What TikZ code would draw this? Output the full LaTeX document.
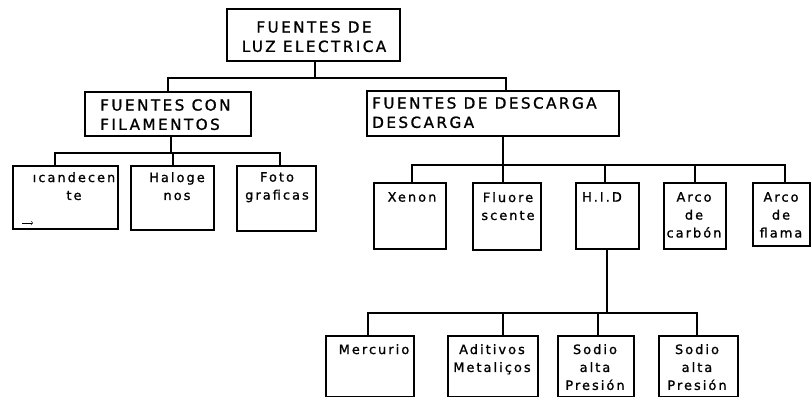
\documentclass[tikz,border=0pt]{standalone}
\usepackage{fontspec}
\newfontfamily\boxfont[LetterSpace=16,FakeBold=1.2]{DejaVu Sans}
\newdimen\px
\px=0.03cm

\begin{document}
\begin{tikzpicture}[x=0.03cm,y=-0.03cm]
        \tikzstyle{every node}+=[inner sep=0pt]
        \tikzstyle{box}=[draw, line width=1.7pt, anchor=north west]
        \tikzstyle{txt}=[anchor=north, align=center, font=\boxfont\fontsize{11}{15.3}\selectfont]
        \tikzstyle{bigtxt}=[txt, font=\boxfont\fontsize{13}{16.5}\selectfont]
        \tikzstyle{wire}=[line width=1.5pt]
        \useasboundingbox (0,0) rectangle (811,397);
        % nivel 1
        \node [box, minimum width=173\px, minimum height=52\px] (luz) at (226,8) {};
        \node [bigtxt] (luzt) at (314,21) {FUENTES DE\\LUZ ELECTRICA};
        % nivel 2
        \node [box, minimum width=166\px, minimum height=44\px] (fil) at (84,91) {};
        \node [bigtxt, align=left, anchor=north west] (filt) at (100,99) {FUENTES CON\\FILAMENTOS};
        \node [box, minimum width=252\px, minimum height=45\px] (des) at (366,90) {};
        \node [bigtxt, align=left, anchor=north west] (dest) at (372,97) {FUENTES DE DESCARGA\\DESCARGA};
        % filamentos
        \node [box, minimum width=105\px, minimum height=63\px] (inc) at (12,165) {};
        \node [txt] (inct) at (74,172) {ıcandecen\\te};
        \node [box, minimum width=83\px, minimum height=64\px] (hal) at (130,165) {};
        \node [txt] (halt) at (177,172) {Haloge\\nos};
        \node [box, minimum width=79\px, minimum height=65\px] (fot) at (236,165) {};
        \node [txt] (fott) at (277,172) {Foto\\graficas};
        % descarga
        \node [box, minimum width=72\px, minimum height=66\px] (xen) at (373,182) {};
        \node [txt] (xent) at (412,192) {Xenon};
        \node [box, minimum width=68\px, minimum height=67\px] (flu) at (472,182) {};
        \node [txt] (flut) at (508,192) {Fluore\\scente};
        \node [box, minimum width=63\px, minimum height=66\px] (hid) at (575,182) {};
        \node [txt] (hidt) at (602,192) {H.I.D};
        \node [box, minimum width=62\px, minimum height=66\px] (car) at (663,182) {};
        \node [txt] (cart) at (694,192) {Arco\\de\\carbón};
        \node [box, minimum width=57\px, minimum height=63\px] (fla) at (752,182) {};
        \node [txt] (flat) at (781,192) {Arco\\de\\flama};
        % H.I.D
        \node [box, minimum width=88\px, minimum height=61\px] (mer) at (325,335) {};
        \node [txt] (mert) at (374,344) {Mercurio};
        \node [box, minimum width=90\px, minimum height=61\px] (adi) at (447,335) {};
        \node [txt] (adit) at (492,344) {Aditivos\\Metaliços};
        \node [box, minimum width=76\px, minimum height=61\px] (so1) at (557,335) {};
        \node [txt] (so1t) at (595,344) {Sodio\\alta\\Presión};
        \node [box, minimum width=79\px, minimum height=61\px] (so2) at (658,335) {};
        \node [txt] (so2t) at (697,344) {Sodio\\alta\\Presión};
        % uniones
        \coordinate (b1) at (315,78);
        \coordinate (b1r) at (506,78);
        \coordinate (b2) at (171,153);
        \coordinate (b2l) at (55,153);
        \coordinate (b2m) at (173,153);
        \coordinate (b2r) at (280,153);
        \coordinate (b3) at (503,165);
        \coordinate (b3l) at (412,165);
        \coordinate (b3a) at (605,165);
        \coordinate (b3b) at (695,165);
        \coordinate (b3r) at (785,165);
        \coordinate (b4) at (607,313);
        \coordinate (b4l) at (368,313);
        \coordinate (b4a) at (503,313);
        \coordinate (b4b) at (598,313);
        \coordinate (b4r) at (697,313);
        \draw [wire] (luz.south -| b1) -- (b1);
        \draw [wire] (fil.north) |- (b1r) -- (b1r |- des.north);
        \draw [wire] (fil.south -| b2) -- (b2);
        \draw [wire] (b2l |- inc.north) -- (b2l) -- (b2r) -- (b2r |- fot.north);
        \draw [wire] (b2m) -- (b2m |- hal.north);
        \draw [wire] (des.south -| b3) -- (b3);
        \draw [wire] (b3l |- xen.north) -- (b3l) -- (b3r) -- (b3r |- fla.north);
        \draw [wire] (b3) -- (b3 |- flu.north);
        \draw [wire] (b3a) -- (b3a |- hid.north);
        \draw [wire] (b3b) -- (b3b |- car.north);
        \draw [wire] (hid.south -| b4) -- (b4);
        \draw [wire] (b4l |- mer.north) -- (b4l) -- (b4r) -- (b4r |- so2.north);
        \draw [wire] (b4a) -- (b4a |- adi.north);
        \draw [wire] (b4b) -- (b4b |- so1.north);
        % marca
        \coordinate (m1) at (22,223);
        \coordinate (m2) at (33,223);
        \draw [->, thin] (m1) -- (m2);
\end{tikzpicture}
\end{document}
